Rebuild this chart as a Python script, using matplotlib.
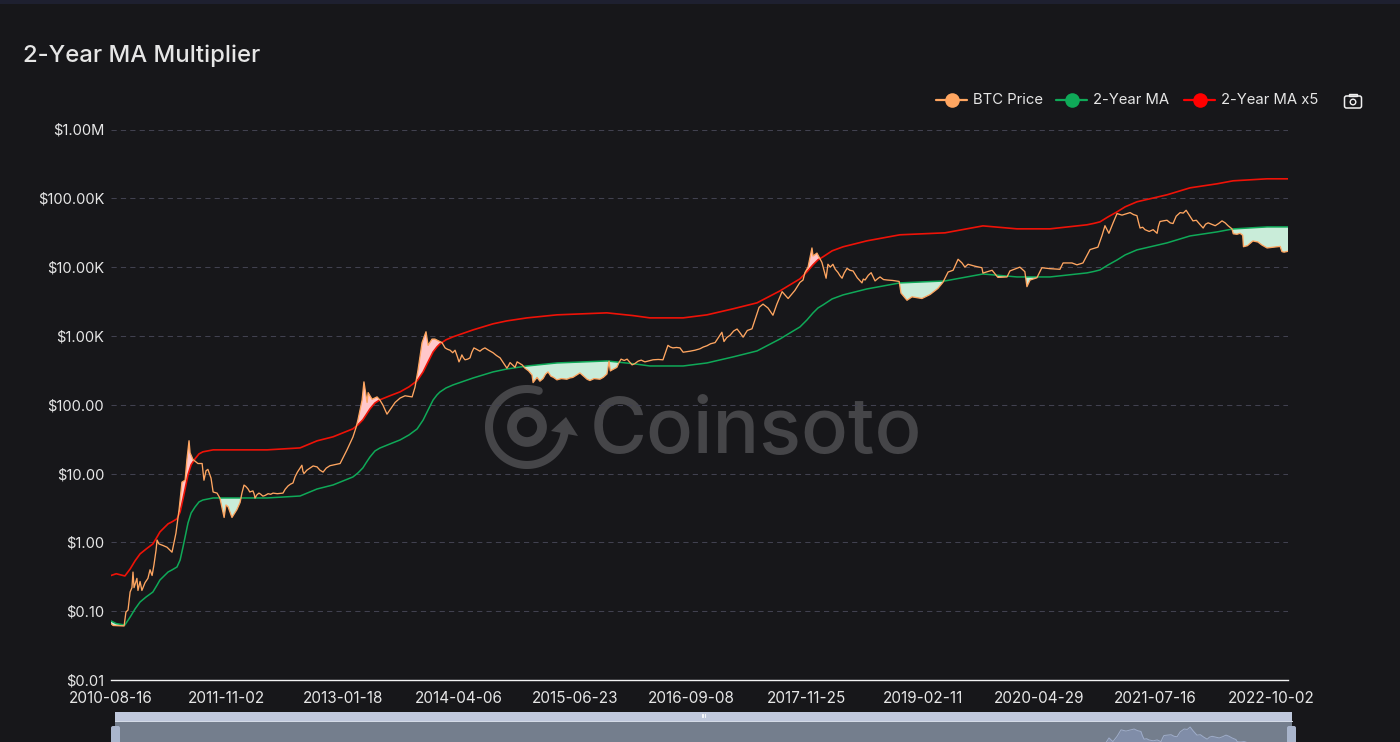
import numpy as np
import pandas as pd
import matplotlib
matplotlib.use('Agg')
import matplotlib.pyplot as plt
from matplotlib.patches import Circle, FancyBboxPatch, Rectangle, Polygon
from matplotlib.ticker import NullLocator

plt.rcParams['font.family'] = ['Inter', 'DejaVu Sans']

START = '2010-08-16'
END = '2022-12-06'

tick_labels = ['2010-08-16', '2011-11-02', '2013-01-18', '2014-04-06', '2015-06-23', '2016-09-08',
               '2017-11-25', '2019-02-11', '2020-04-29', '2021-07-16', '2022-10-02']
y_ticks = [0.01, 0.1, 1, 10, 100, 1000, 10000, 100000, 1000000]
y_labels = ['$0.01', '$0.10', '$1.00', '$10.00', '$100.00', '$1.00K', '$10.00K', '$100.00K', '$1.00M']

# (days since START, price), one run per stretch of the curve
btc_points = [
    (0, 0.066), (8, 0.062), (50, 0.061), (57, 0.097), (65, 0.104), (73, 0.19), (80, 0.22), (84, 0.37), (88, 0.22),
    (99, 0.30), (103, 0.20), (111, 0.27), (118, 0.20), (130, 0.26), (141, 0.30), (149, 0.40), (157, 0.33), (164, 0.47),
    (172, 0.77), (176, 1.08), (183, 0.95), (199, 0.90), (214, 0.85), (233, 0.72), (237, 0.85), (248, 1.36), (256, 2.3),
    (260, 3.0), (271, 7.5), (283, 8.0), (290, 16), (298, 30), (302, 20), (313, 16), (332, 14), (348, 14), (355, 8),
    (363, 11), (370, 11.5), (382, 8.6), (390, 5.4), (405, 5.2), (416, 4.4), (432, 2.3), (439, 3.5), (447, 3.3),
    (462, 2.3), (481, 3.0), (493, 3.8),
    (500, 5.2), (508, 6.8), (515, 6.5), (523, 6.0), (530, 5.4), (542, 5.6), (547, 5.0), (550, 4.4), (557, 4.9),
    (565, 5.2), (572, 5.0), (580, 4.7), (588, 4.8), (600, 5.1), (610, 5.0), (619, 5.2), (635, 5.1), (657, 5.2),
    (665, 5.9), (676, 6.6), (685, 7.0), (695, 7.3), (703, 9), (712, 10.5), (722, 12), (729, 13.2), (733, 10.8),
    (737, 10), (748, 11.2), (760, 12), (772, 12.9), (787, 12.5), (798, 11.2), (810, 10.5), (822, 12), (836, 13),
    (855, 13.5), (875, 14),
    (901, 22), (924, 34), (936, 47), (943, 60), (959, 117), (966, 215), (978, 108), (982, 150), (997, 120), (1016, 130),
    (1027, 117), (1039, 98), (1054, 73), (1073, 93), (1085, 108), (1104, 125), (1123, 135), (1150, 130), (1161, 180),
    (1172, 310), (1188, 800), (1203, 1150), (1211, 730), (1226, 900), (1237, 900), (1245, 870),
    (1264, 800), (1276, 670), (1285, 640), (1295, 620), (1305, 570), (1314, 620), (1322, 510), (1329, 420), (1335, 470),
    (1340, 530), (1346, 480), (1352, 450), (1362, 460), (1371, 480), (1378, 580), (1386, 670), (1396, 640), (1409, 600),
    (1418, 640), (1428, 670), (1442, 620), (1459, 570), (1472, 520), (1486, 480), (1500, 400), (1512, 340), (1518, 370),
    (1524, 410), (1533, 380), (1543, 350), (1551, 420), (1560, 400), (1570, 380), (1581, 340), (1595, 310), (1608, 270),
    (1612, 210), (1620, 230), (1627, 250), (1638, 220), (1650, 240), (1660, 280), (1669, 300), (1680, 260), (1690, 250),
    (1703, 230), (1720, 240), (1741, 235), (1752, 245), (1764, 250), (1778, 270), (1791, 290), (1805, 260), (1818, 235),
    (1829, 225), (1845, 240), (1867, 235), (1880, 250), (1894, 280), (1902, 430), (1907, 310), (1913, 320), (1932, 350),
    (1940, 410), (1948, 460), (1960, 440), (1971, 460), (1980, 420), (1990, 380), (2000, 395), (2013, 430), (2025, 445),
    (2039, 420), (2055, 435), (2070, 450), (2090, 455), (2108, 450), (2118, 580), (2127, 730), (2136, 690), (2146, 670),
    (2160, 680), (2173, 670), (2185, 580), (2198, 590), (2211, 600), (2230, 620), (2249, 650), (2262, 690), (2276, 720),
    (2290, 770), (2307, 800), (2320, 950), (2333, 1130), (2341, 830), (2352, 950), (2364, 1020), (2378, 1180), (2391, 1260),
    (2403, 1100), (2414, 960), (2430, 1200), (2448, 1270),
    (2459, 1700), (2475, 2600), (2490, 2900), (2509, 2550), (2528, 2000), (2543, 2900), (2563, 4400), (2586, 3500),
    (2612, 4600), (2631, 6000), (2643, 6500), (2650, 8300), (2662, 10000), (2677, 19000), (2681, 14500), (2696, 16000),
    (2715, 11700), (2731, 6900),
    (2738, 11000), (2747, 10000), (2757, 11000), (2766, 9300), (2776, 8400), (2784, 7500), (2792, 6900), (2800, 8200),
    (2811, 9600), (2822, 9000), (2834, 8800), (2850, 7000), (2868, 5900), (2873, 6700), (2880, 6500), (2892, 7600),
    (2903, 8300), (2910, 7300), (2918, 6300), (2928, 6800), (2937, 7200), (2950, 6600), (2964, 6500), (2985, 6400),
    (3010, 6200),
    (3017, 4200), (3040, 3300), (3059, 3700), (3097, 3500), (3128, 4000), (3158, 4900), (3177, 6000), (3197, 8500),
    (3216, 9000), (3235, 13000), (3250, 11500), (3261, 10000), (3273, 11000), (3300, 10300), (3326, 9800), (3330, 8200),
    (3365, 9000), (3387, 7100), (3422, 7200), (3433, 8800), (3471, 10000), (3490, 8600), (3498, 5200), (3510, 6500),
    (3536, 7000), (3555, 9800), (3586, 9500), (3624, 9300), (3636, 11500), (3670, 11500), (3689, 10800), (3712, 11500),
    (3739, 18000), (3769, 19500), (3785, 29000), (3796, 40000), (3811, 31000), (3827, 44000), (3842, 60000), (3861, 57000),
    (3892, 62000), (3905, 58000), (3918, 56000), (3924, 45000), (3930, 37000), (3940, 38000), (3949, 35000), (3965, 33000),
    (3980, 35000), (3995, 31000), (4000, 39000), (4006, 46000), (4018, 47000), (4033, 48000), (4045, 44000), (4056, 43000),
    (4068, 55000), (4083, 62000), (4095, 61000), (4106, 67000), (4118, 57000), (4132, 47000), (4145, 48000), (4158, 42000),
    (4171, 37000), (4180, 42000), (4190, 44000), (4203, 42000), (4217, 40000), (4230, 43000), (4243, 47000), (4255, 44000),
    (4266, 40000), (4281, 36000), (4286, 30500), (4300, 30000), (4312, 31000), (4322, 29000), (4325, 19800), (4340, 20500),
    (4361, 24000), (4380, 23200), (4395, 21000), (4415, 19000), (4440, 19500), (4465, 20000), (4472, 16800), (4480, 16500),
    (4495, 17000),
]
price_days = [p[0] for p in btc_points]
btc_price = [p[1] for p in btc_points]

ma_days = [0, 20, 53, 73, 92, 111, 134, 160, 176, 187, 218, 233, 252, 264, 275, 283, 294, 306, 321, 336, 351, 390, 466, 596, 722,
           787, 848, 924, 943, 962, 974, 989, 1008, 1027, 1065, 1104, 1138, 1169, 1192, 1211, 1230, 1245, 1256, 1279, 1306, 1383,
           1459, 1512, 1589, 1703, 1894, 1994, 2058, 2185, 2276, 2375, 2467, 2555, 2593, 2631, 2658, 2681, 2700, 2719, 2754, 2796,
           2887, 3013, 3185, 3330, 3460, 3586, 3727, 3754, 3777, 3808, 3842, 3873, 3918, 3968, 4033, 4121, 4224, 4285, 4415, 4495]
ma_2y = [0.072, 0.066, 0.063, 0.082, 0.108, 0.136, 0.161, 0.19, 0.24, 0.284, 0.371, 0.398, 0.439, 0.555, 0.857, 1.197, 1.91, 2.67, 3.27, 3.87, 4.13, 4.42, 4.42, 4.42, 4.72,
         5.97, 6.83, 8.93, 10.2, 12.1, 14.3, 17.4, 21.3, 23.5, 26.9, 30.8, 36.4, 44.5, 60, 84, 117, 139, 153, 175, 194, 245,
         300, 331, 366, 405, 433, 395, 366, 366, 405, 495, 605, 904, 1106, 1350, 1710, 2160, 2550, 2820, 3450, 3950,
         4820, 5900, 6300, 7950, 7200, 7200, 8240, 8650, 9100, 10760, 12700, 15040, 17800, 19700, 22500, 28400, 32500, 35900, 38400, 38400]
ma_x5 = [0.33, 0.35, 0.325, 0.41, 0.54, 0.68, 0.8, 0.95, 1.2, 1.42, 1.86, 1.99, 2.2, 2.77, 4.3, 6.0, 9.6, 13.4, 16.4, 19.3, 20.7, 22.1, 22.1, 22.1, 23.6,
         29.9, 34.2, 44.7, 51, 60.5, 71, 87, 106, 118, 135, 154, 182, 223, 300, 420, 585, 694, 765, 877, 970, 1225,
         1500, 1655, 1830, 2025, 2165, 1975, 1830, 1830, 2025, 2475, 3025, 4520, 5530, 6750, 8550, 10800, 12750, 14100, 17250, 19750,
         24100, 29500, 31500, 39750, 36000, 36000, 41200, 43250, 45500, 53800, 63500, 75200, 89000, 98500, 112500, 142000, 162500, 179500, 192000, 192000]

BG = '#17171a'
GRID = '#41414f'
TEXT = '#e6e6e6'
ORANGE = '#ffa661'
GREEN = '#0fa958'
RED = '#ee1207'

W, H = 1400, 742
fig = plt.figure(figsize=(W / 100, H / 100), dpi=100, facecolor=BG)

# pixel canvas behind the chart: watermark, title, legend, slider
bg = fig.add_axes([0, 0, 1, 1], zorder=0)
bg.set_xlim(0, W)
bg.set_ylim(H, 0)
bg.axis('off')

bg.add_patch(Rectangle((0, 0), W, 4, color='#1e2030', lw=0))
bg.text(23, 56, '2-Year MA Multiplier', color=TEXT, fontsize=17.2, fontweight='medium', va='center', ha='left')

# watermark
WM = '#454548'
t = np.radians(np.linspace(72, 352, 100))
bg.plot(527 + 38 * np.cos(t), 427 - 38 * np.sin(t), color=WM, lw=5.8, solid_capstyle='round')
bg.add_patch(Circle((527, 427), 15, fill=False, ec=WM, lw=7))
bg.add_patch(Polygon([(566, 417), (578, 436), (551, 431)], closed=True, color=WM, lw=0))
bg.text(590, 453, 'Coinsoto', color=WM, fontsize=56, fontweight='medium', va='baseline', ha='left')

# legend
legend_items = [('BTC Price', ORANGE, 936, 973), ('2-Year MA', GREEN, 1056, 1093), ('2-Year MA x5', RED, 1184, 1221)]
for name, color, lx, tx in legend_items:
    c = '#ff0000' if color == RED else color
    bg.plot([lx, lx + 31], [100, 100], color=c, lw=1.6, solid_capstyle='round')
    bg.plot([lx + 15.5], [100], 'o', color=c, ms=10.5, mew=0)
    bg.text(tx, 100.5, name, color=TEXT, fontsize=10.7, va='center', ha='left')
bg.add_patch(FancyBboxPatch((1344.5, 96), 17, 12, boxstyle='round,pad=0,rounding_size=2', fill=False, ec='#f0f0f0', lw=1.1))
bg.add_patch(Rectangle((1349, 93.5), 8, 2.5, fill=False, ec='#f0f0f0', lw=1.0))
bg.add_patch(Circle((1353, 102), 2.8, fill=False, ec='#f0f0f0', lw=1.0))

# slider
bg.add_patch(Rectangle((115, 721), 1177, 21, color='#747e8d', lw=0))
bg.add_patch(Rectangle((115, 712), 1177, 8.5, color='#bfc8dc', lw=0))
bg.plot([115, 1292], [720.8, 720.8], color='#d8deea', lw=0.7)
for hx in (701.5, 703, 704.5):
    bg.plot([hx, hx], [714, 717], color='#ffffff', lw=0.6)

price_dates = pd.Timestamp(START) + pd.to_timedelta(price_days, unit='D')
ma_dates = pd.Timestamp(START) + pd.to_timedelta(ma_days, unit='D')

mini = fig.add_axes([115 / W, 0, 1177 / W, 21 / H], zorder=1)
mini.patch.set_alpha(0)
mini.axis('off')
mini.fill_between(price_dates, 0, btc_price, color='#808da8', lw=0)
mini.plot(price_dates, btc_price, color='#9fadca', lw=0.7)
mini.set_xlim(pd.Timestamp(START), pd.Timestamp(END))
mini.set_ylim(30000, 81800)

for hx in (111, 1287):
    bg.add_patch(FancyBboxPatch((hx, 726), 9, 20, boxstyle='round,pad=0,rounding_size=2', color='#a9b5cc', lw=0, zorder=5))

# main chart
ax = fig.add_axes([111 / W, (H - 680) / H, 1177 / W, 550.5 / H], zorder=2)
ax.patch.set_alpha(0)
ax.set_yscale('log')

grid_days = np.arange(0, price_days[-1] + 1)
grid_dates = pd.Timestamp(START) + pd.to_timedelta(grid_days, unit='D')
p_log = np.interp(grid_days, price_days, np.log10(btc_price))
m_log = np.interp(grid_days, ma_days, np.log10(ma_2y))
r_log = np.interp(grid_days, ma_days, np.log10(ma_x5))
ax.fill_between(grid_dates, 10 ** p_log, 10 ** m_log, where=p_log < m_log, color='#c9ecd9', lw=0, zorder=2)
ax.fill_between(grid_dates, 10 ** p_log, 10 ** r_log, where=p_log > r_log, color='#ffc7ca', lw=0, zorder=2)

ax.plot(ma_dates, ma_2y, color=GREEN, lw=1.1, zorder=3)
ax.plot(ma_dates, ma_x5, color=RED, lw=1.2, zorder=3)
ax.plot(price_dates, btc_price, color=ORANGE, lw=0.95, zorder=4)

ax.set_xlim(pd.Timestamp(START), pd.Timestamp(END))
ax.set_ylim(0.01, 1000000)
ax.set_yticks(y_ticks)
ax.set_yticklabels(y_labels)
ax.yaxis.set_minor_locator(NullLocator())
ax.set_xticks(pd.to_datetime(tick_labels))
ax.set_xticklabels(tick_labels)
ax.xaxis.set_minor_locator(NullLocator())
ax.tick_params(axis='y', length=0, labelcolor=TEXT, labelsize=10.6, pad=5)
ax.tick_params(axis='x', length=0, labelcolor=TEXT, labelsize=11, pad=8)
ax.grid(True, axis='y', color=GRID, lw=0.75, linestyle=(0, (5, 4)), zorder=1)
ax.set_axisbelow(True)
for side in ('top', 'left', 'right'):
    ax.spines[side].set_visible(False)
ax.spines['bottom'].set_color('#f2f2f2')
ax.spines['bottom'].set_linewidth(1.0)

fig.savefig('out.png', dpi=100, facecolor=BG)
